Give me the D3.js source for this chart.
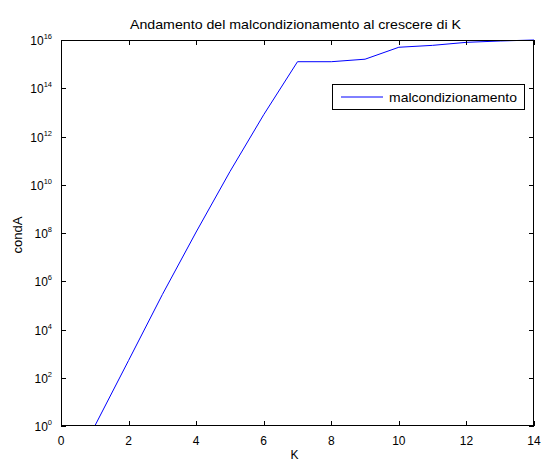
<!DOCTYPE html>
<html lang="it">
<head>
<meta charset="UTF-8">
<title>Andamento del malcondizionamento</title>
<script src="https://cdn.jsdelivr.net/npm/d3@7"></script>
<style>
    html, body { margin: 0; padding: 0; background: #fff; }
    svg { display: block; font-family: "Liberation Sans", Arial, Helvetica, sans-serif; }
</style>
</head>
<body>
<div id="chart"></div>
<script>
    // dati (K, condA)
    const kValues = [1, 2, 3, 4, 5, 6, 7, 8, 9, 10, 11, 12, 13, 14];
    const condA = [1, 5.2e2, 2.8e5, 1.1e8, 3.5e10, 8e12, 1.26e15, 1.26e15, 1.6e15, 5e15, 6e15, 8e15, 9.1e15, 1e16];
    const xTicks = [0, 2, 4, 6, 8, 10, 12, 14];
    const yTickExps = [0, 2, 4, 6, 8, 10, 12, 14, 16];
    const seriesName = "malcondizionamento";

    const width = 542, height = 461;
    const margin = { top: 40, right: 8, bottom: 35, left: 61 };
    const x0 = margin.left, x1 = width - margin.right;
    const y0 = height - margin.bottom, y1 = margin.top;

    const svg = d3.select("#chart").append("svg")
        .attr("width", width)
        .attr("height", height);

    svg.append("rect").attr("width", width).attr("height", height).attr("fill", "#fff");

    const x = d3.scaleLinear().domain([0, 14]).range([x0, x1]);
    const y = d3.scaleLog().domain([1, 1e16]).range([y0, y1]);

    svg.append("clipPath").attr("id", "plotClip")
        .append("rect")
        .attr("x", x0).attr("y", y1 - 1)
        .attr("width", x1 - x0).attr("height", y0 - y1 + 2);

    // linea
    const line = d3.line()
        .x(function (d, i) { return x(kValues[i]); })
        .y(function (d) { return y(d); });

    svg.append("path")
        .datum(condA)
        .attr("clip-path", "url(#plotClip)")
        .attr("fill", "none")
        .attr("stroke", "#0000ff")
        .attr("stroke-width", 1)
        .attr("d", line);

    // assi (stile matlab: tacche interne su tutti i lati)
    const tickLen = 5;
    const axes = svg.append("g").attr("stroke", "#000").attr("stroke-width", 1).attr("fill", "none");
    axes.append("rect")
        .attr("x", x0 + 0.5).attr("y", y1 + 0.5)
        .attr("width", x1 - x0 - 1).attr("height", y0 - y1 - 1);

    xTicks.forEach(function (t) {
        const px = Math.round(x(t)) + 0.5;
        axes.append("line").attr("x1", px).attr("x2", px).attr("y1", y0).attr("y2", y0 - tickLen);
        axes.append("line").attr("x1", px).attr("x2", px).attr("y1", y1).attr("y2", y1 + tickLen);
    });
    yTickExps.forEach(function (e) {
        const py = Math.round(y(Math.pow(10, e))) + 0.5;
        axes.append("line").attr("x1", x0).attr("x2", x0 + tickLen).attr("y1", py).attr("y2", py);
        axes.append("line").attr("x1", x1).attr("x2", x1 - tickLen).attr("y1", py).attr("y2", py);
    });

    // etichette asse x
    svg.append("g").selectAll("text")
        .data(xTicks)
        .enter()
        .append("text")
        .attr("x", function (d) { return x(d); })
        .attr("y", y0 + 19)
        .attr("text-anchor", "middle")
        .attr("font-size", 12)
        .text(function (d) { return d; });

    // etichette asse y: 10^n
    const yLabels = svg.append("g").selectAll("text")
        .data(yTickExps)
        .enter()
        .append("text")
        .attr("x", x0 - 9)
        .attr("y", function (d) { return y(Math.pow(10, d)) + 5; })
        .attr("text-anchor", "end")
        .attr("font-size", 12);
    yLabels.append("tspan").text("10");
    yLabels.append("tspan")
        .attr("font-size", 7.5)
        .attr("dy", -6)
        .text(function (d) { return d; });

    // titolo e nomi assi
    svg.append("text")
        .attr("x", (x0 + x1) / 2 - 2)
        .attr("y", 29)
        .attr("text-anchor", "middle")
        .attr("font-size", 13)
        .attr("textLength", 331)
        .attr("lengthAdjust", "spacingAndGlyphs")
        .text("Andamento del malcondizionamento al crescere di K");

    svg.append("text")
        .attr("x", (x0 + x1) / 2 - 3)
        .attr("y", 459)
        .attr("text-anchor", "middle")
        .attr("font-size", 12)
        .text("K");

    svg.append("text")
        .attr("transform", "translate(22," + ((y0 + y1) / 2 + 2) + ") rotate(-90)")
        .attr("text-anchor", "middle")
        .attr("font-size", 13)
        .text("condA");

    // legenda
    const legend = svg.append("g");
    legend.append("rect")
        .attr("x", 332.5).attr("y", 84.5)
        .attr("width", 192).attr("height", 25)
        .attr("fill", "#fff").attr("stroke", "#000");
    legend.append("line")
        .attr("x1", 341).attr("x2", 383)
        .attr("y1", 97).attr("y2", 97)
        .attr("stroke", "#0000ff");
    legend.append("text")
        .attr("x", 389).attr("y", 101.5)
        .attr("font-size", 13)
        .attr("textLength", 128)
        .attr("lengthAdjust", "spacingAndGlyphs")
        .text(seriesName);
</script>
</body>
</html>
